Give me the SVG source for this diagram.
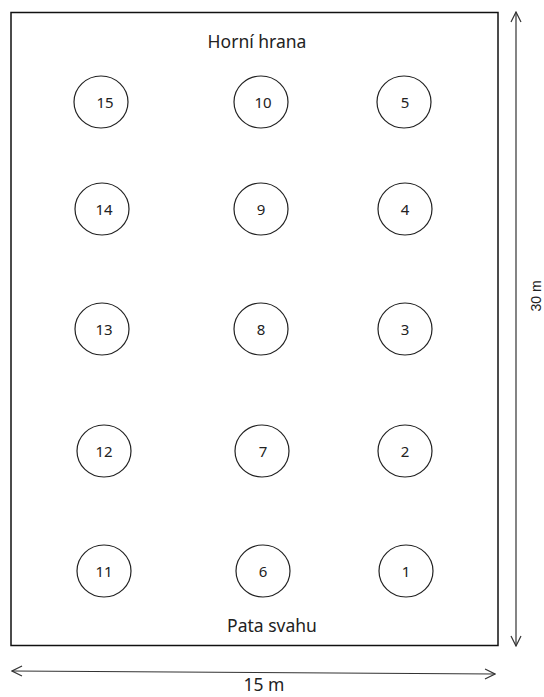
<svg xmlns="http://www.w3.org/2000/svg" width="544" height="697" viewBox="0 0 544 697">
<style>
.c{fill:#fff;stroke:#222;stroke-width:1.2}
.t{font-family:"Noto Sans","Open Sans",sans-serif;font-size:15px;fill:#222;text-anchor:middle}
.l{font-family:"Noto Sans","Open Sans",sans-serif;font-size:17.5px;fill:#222;text-anchor:middle}
.a{fill:none;stroke:#333;stroke-width:1.2}
</style>
<defs>
<marker id="ah" viewBox="0 0 12 12" refX="11" refY="6" markerWidth="12" markerHeight="12" markerUnits="userSpaceOnUse" orient="auto-start-reverse">
<path d="M1,1 L11,6 L1,11" fill="none" stroke="#333" stroke-width="1.2"/>
</marker>
</defs>
<rect id="plot" x="11" y="12.5" width="487" height="633" fill="#fff" stroke="#111" stroke-width="1.5"/>
<text class="l" x="257" y="48">Horní hrana</text>
<text class="l" x="272" y="632">Pata svahu</text>
<g id="n15"><ellipse class="c" cx="101" cy="102" rx="27" ry="26"/><text class="t" x="105" y="108">15</text></g>
<g id="n10"><ellipse class="c" cx="261" cy="102" rx="27" ry="26"/><text class="t" x="263" y="108">10</text></g>
<g id="n5"><ellipse class="c" cx="404" cy="102" rx="27" ry="26"/><text class="t" x="405" y="108">5</text></g>
<g id="n14"><ellipse class="c" cx="102" cy="209" rx="27" ry="26"/><text class="t" x="104" y="215">14</text></g>
<g id="n9"><ellipse class="c" cx="261" cy="209" rx="27" ry="26"/><text class="t" x="261" y="215">9</text></g>
<g id="n4"><ellipse class="c" cx="405" cy="209" rx="27" ry="26"/><text class="t" x="405" y="215">4</text></g>
<g id="n13"><ellipse class="c" cx="102" cy="329" rx="27" ry="26"/><text class="t" x="104" y="335">13</text></g>
<g id="n8"><ellipse class="c" cx="261" cy="329" rx="27" ry="26"/><text class="t" x="261" y="335">8</text></g>
<g id="n3"><ellipse class="c" cx="405" cy="329" rx="27" ry="26"/><text class="t" x="405" y="335">3</text></g>
<g id="n12"><ellipse class="c" cx="104" cy="451" rx="27" ry="26"/><text class="t" x="104" y="457">12</text></g>
<g id="n7"><ellipse class="c" cx="262" cy="451" rx="27" ry="26"/><text class="t" x="263" y="457">7</text></g>
<g id="n2"><ellipse class="c" cx="405" cy="451" rx="27" ry="26"/><text class="t" x="405" y="457">2</text></g>
<g id="n11"><ellipse class="c" cx="104" cy="571" rx="27" ry="26"/><text class="t" x="104" y="577">11</text></g>
<g id="n6"><ellipse class="c" cx="263" cy="571" rx="27" ry="26"/><text class="t" x="263" y="577">6</text></g>
<g id="n1"><ellipse class="c" cx="406" cy="571" rx="27" ry="26"/><text class="t" x="406" y="577">1</text></g>
<g id="connectors">
<line class="a" x1="516" y1="12" x2="516" y2="646" marker-start="url(#ah)" marker-end="url(#ah)"/>
<line class="a" x1="12" y1="671" x2="495" y2="674" marker-start="url(#ah)" marker-end="url(#ah)"/>
</g>
<text class="l" x="264" y="691" font-size="17">15 m</text>
<text x="0" y="0" transform="translate(541,296) rotate(-90)" font-family="Liberation Sans,Arial,sans-serif" font-size="14" fill="#222" text-anchor="middle">30 m</text>
</svg>
